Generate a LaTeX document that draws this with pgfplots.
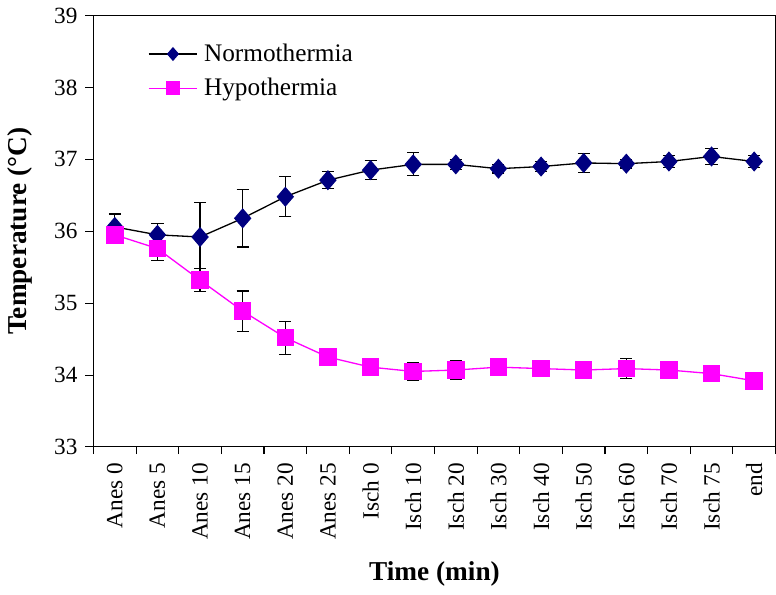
\documentclass[border=0pt]{standalone}
\usepackage{fontspec}
\setmainfont{Liberation Serif}
\usepackage{pgfplots}
\pgfplotsset{compat=1.18}
\definecolor{navyd}{RGB}{0,0,128}
\definecolor{magen}{RGB}{255,0,255}
\begin{document}
\fontsize{23}{27}\selectfont
\begin{tikzpicture}
\begin{axis}[
    scale only axis,
    width=675pt,
    height=427pt,
    xmin=-0.5, xmax=15.5,
    ymin=33, ymax=39,
    ytick={33,34,35,36,37,38,39},
    xtick={0,...,15},
    xticklabels={Anes 0,Anes 5,Anes 10,Anes 15,Anes 20,Anes 25,Isch 0,Isch 10,Isch 20,Isch 30,Isch 40,Isch 50,Isch 60,Isch 70,Isch 75,end},
    minor xtick={-0.5,0.5,...,15.5},
    x tick label style={rotate=90, anchor=east},
    xtick pos=bottom, ytick pos=left,
    tick align=outside,
    major x tick style={draw=none},
    minor tick length=7pt,
    major tick length=8pt,
    tick style={black, line width=1pt},
    axis line style={line width=1pt},
    /pgf/number format/assume math mode=true,
    tick label style={font=\fontsize{23}{27}\selectfont},
    xlabel={\textbf{Time (min)}},
    ylabel={\textbf{Temperature (°C)}},
    label style={font=\fontsize{27}{31}\selectfont},
    xlabel style={yshift=-6pt},
    ylabel style={yshift=6pt},
    legend style={draw=none, fill=none, at={(0.075,0.945)}, anchor=north west, font=\fontsize{25}{29}\selectfont, row sep=9pt,
        nodes={inner xsep=6pt}},
    legend cell align=left,
    legend image code/.code={\draw[mark repeat=2, mark phase=2, #1, mark size=6pt] plot coordinates {(0cm,0cm) (0.85cm,0cm) (1.7cm,0cm)};},
    error bars/error bar style={black, line width=1.2pt},
    error bars/error mark options={black, line width=1.2pt, rotate=90, mark size=6pt},
]
\addplot[black, line width=1.3pt, mark=diamond*, mark size=9pt,
    mark options={navyd, fill=navyd, xscale=1.15},
    error bars/.cd, y dir=both, y explicit]
coordinates {
(0,36.06) +- (0,0.18)
(1,35.95) +- (0,0.16)
(2,35.92) +- (0,0.48)
(3,36.18) +- (0,0.40)
(4,36.48) +- (0,0.28)
(5,36.71) +- (0,0.12)
(6,36.85) +- (0,0.13)
(7,36.93) +- (0,0.16)
(8,36.93) +- (0,0.07)
(9,36.87) +- (0,0.06)
(10,36.90) +- (0,0.07)
(11,36.95) +- (0,0.13)
(12,36.94) +- (0,0.06)
(13,36.97) +- (0,0.08)
(14,37.04) +- (0,0.11)
(15,36.97) +- (0,0.08)
};
\addlegendentry{Normothermia}
\addplot[magen, line width=1.3pt, mark=square*, mark size=8pt,
    mark options={magen, fill=magen},
    error bars/.cd, y dir=both, y explicit]
coordinates {
(0,35.95) +- (0,0.12)
(1,35.76) +- (0,0.17)
(2,35.32) +- (0,0.16)
(3,34.89) +- (0,0.28)
(4,34.52) +- (0,0.23)
(5,34.25) +- (0,0.12)
(6,34.11) +- (0,0.05)
(7,34.05) +- (0,0.13)
(8,34.07) +- (0,0.13)
(9,34.11) +- (0,0.05)
(10,34.09) +- (0,0.05)
(11,34.07) +- (0,0.12)
(12,34.09) +- (0,0.14)
(13,34.07) +- (0,0.05)
(14,34.02) +- (0,0.05)
(15,33.92) +- (0,0.12)
};
\addlegendentry{Hypothermia}
\end{axis}
\end{tikzpicture}
\end{document}
